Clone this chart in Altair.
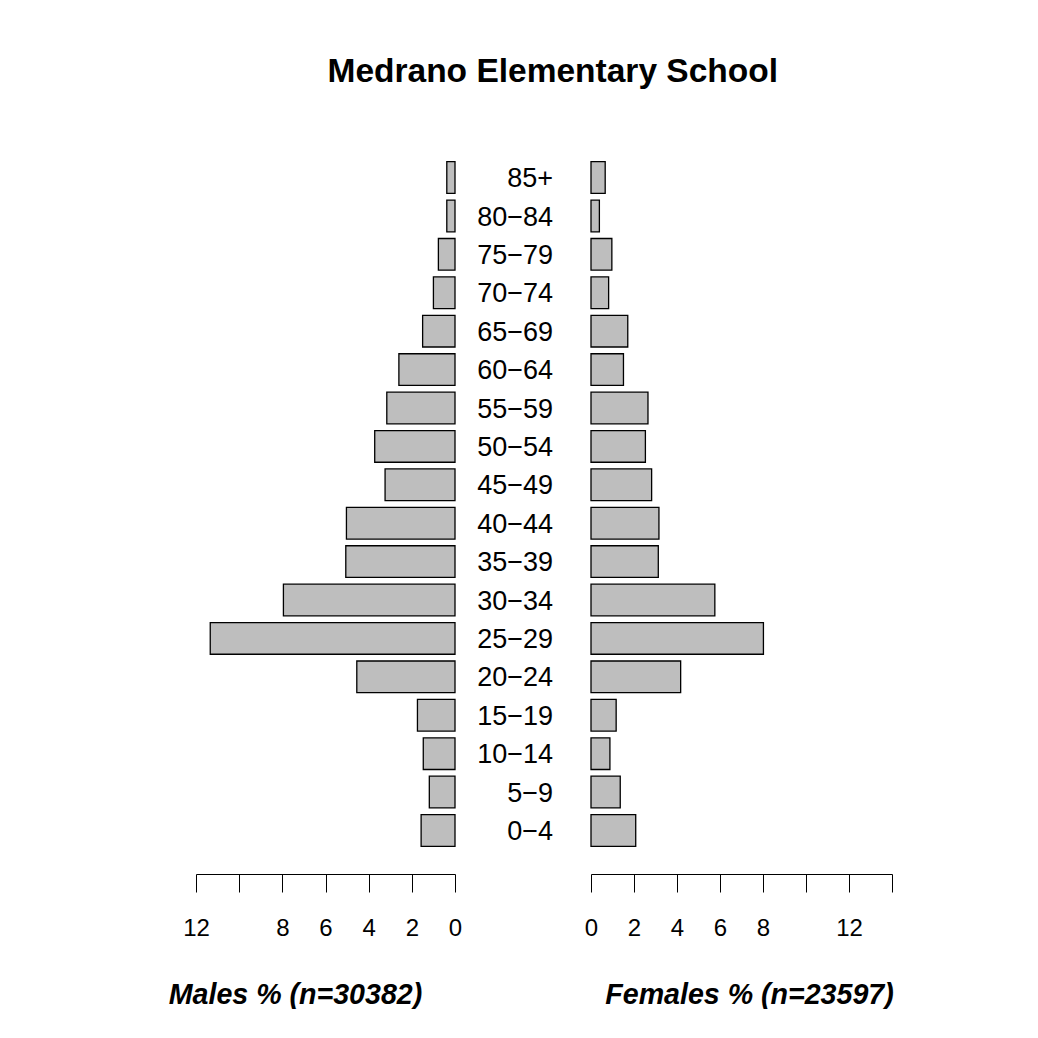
import altair as alt
import pandas as pd

age_groups = ["0\u22124", "5\u22129", "10\u221214", "15\u221219", "20\u221224", "25\u221229",
              "30\u221234", "35\u221239", "40\u221244", "45\u221249", "50\u221254", "55\u221259",
              "60\u221264", "65\u221269", "70\u221274", "75\u221279", "80\u221284", "85+"]
male_pct = [1.57, 1.19, 1.47, 1.74, 4.55, 11.34, 7.95, 5.06, 5.03, 3.24, 3.72, 3.16,
            2.60, 1.50, 1.00, 0.77, 0.38, 0.38]
female_pct = [2.08, 1.36, 0.88, 1.17, 4.17, 8.02, 5.76, 3.13, 3.16, 2.82, 2.53, 2.65,
              1.51, 1.71, 0.82, 0.97, 0.39, 0.66]
left_ticks = [0, 2, 4, 6, 8, 10, 12]
right_ticks = [0, 2, 4, 6, 8, 10, 12, 14]

df = pd.DataFrame({"age": age_groups, "male": male_pct, "female": female_pct})
order = age_groups[::-1]
FONT = "Liberation Sans"

yscale = alt.Scale(type="band", domain=order, paddingInner=0.175, paddingOuter=0.2)


def axis(values, hide_expr, title, tx):
    return alt.Axis(
        values=values, labelExpr=hide_expr, title=title, orient="bottom", offset=20,
        tickSize=18, grid=False, domainColor="black", tickColor="black",
        labelColor="black", labelFontSize=24, labelFont=FONT, labelPadding=24,
        labelFlush=False, labelOverlap=False, domainWidth=1, tickWidth=1,
        titleFont=FONT, titleFontSize=28.6, titleFontStyle="italic", titleFontWeight="bold",
        titleColor="black", titleX=tx, titleY=120, titleAlign="center",
        titleBaseline="middle", titleAngle=0,
    )


left = alt.Chart(df).mark_bar(fill="#bebebe", stroke="black", strokeWidth=1.3).encode(
    x=alt.X("male:Q", scale=alt.Scale(domain=[0, 12], reverse=True, nice=False),
            axis=axis(left_ticks, "datum.value == 10 ? '' : datum.label",
                      "Males % (n=30382)", 99)),
    y=alt.Y("age:N", scale=yscale, axis=None),
).properties(width=259, height=700)

mid = alt.Chart(df).mark_text(align="right", baseline="alphabetic", fontSize=27, font=FONT,
                              color="black", dy=9.6).encode(
    y=alt.Y("age:N", scale=yscale, axis=None, bandPosition=0.5),
    x=alt.value(98),
    text="age:N",
).properties(width=136, height=700)

right = alt.Chart(df).mark_bar(fill="#bebebe", stroke="black", strokeWidth=1.3).encode(
    x=alt.X("female:Q", scale=alt.Scale(domain=[0, 14], nice=False),
            axis=axis(right_ticks, "(datum.value == 10 || datum.value == 14) ? '' : datum.label",
                      "Females % (n=23597)", 158)),
    y=alt.Y("age:N", scale=yscale, axis=None),
).properties(width=301, height=700)

chart = alt.hconcat(left, mid, right, spacing=0, bounds="flush").properties(
    title=alt.TitleParams("Medrano Elementary School", fontSize=33.5, fontWeight="bold",
                          font=FONT, color="black", anchor="middle", offset=65, dx=22),
    padding={"left": 160, "top": 46, "right": 0, "bottom": 0},
).configure_view(stroke=None)

chart.save("out.html", embed_options={"renderer": "svg", "actions": False})
